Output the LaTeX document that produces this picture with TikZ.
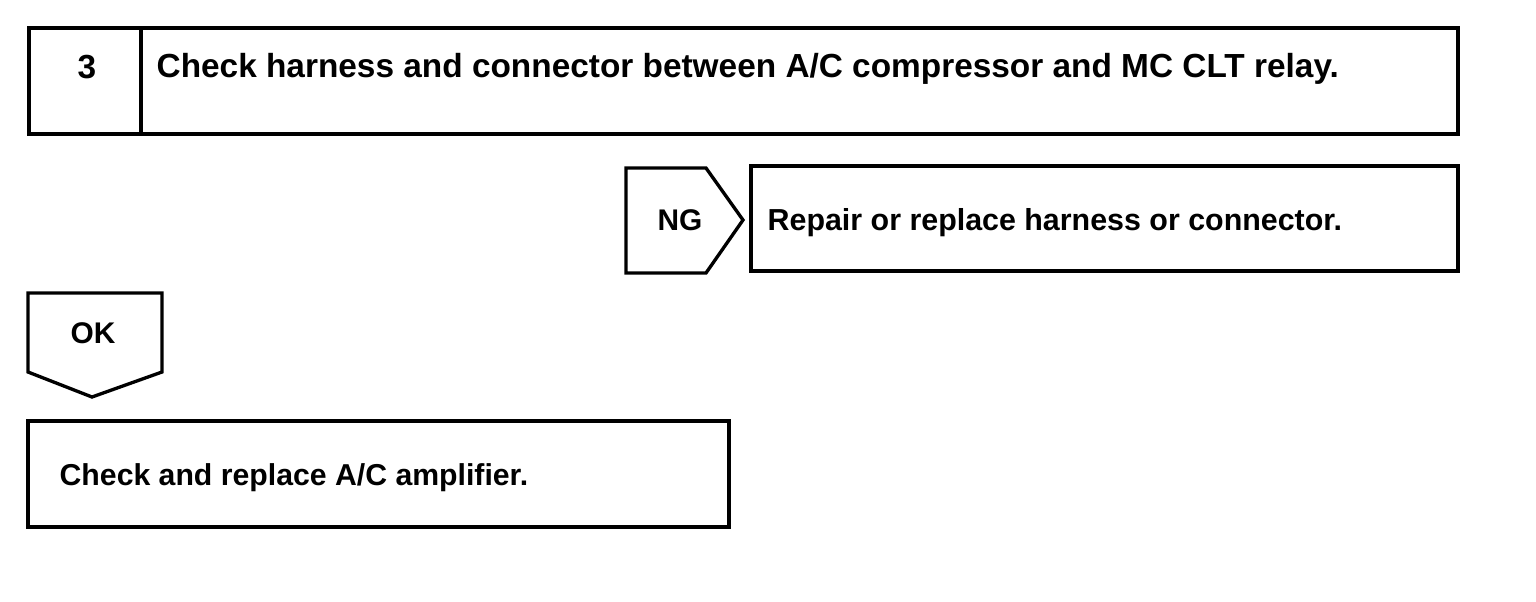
\documentclass[tikz,border=0pt]{standalone}
\usepackage{fontspec}
\setmainfont{Liberation Sans}
\usetikzlibrary{positioning}

\begin{document}
\begin{tikzpicture}[
    x=0.02cm, y=-0.02cm,
    line width=1.9pt,
    font=\bfseries,
    label/.style={anchor=base west, inner sep=0pt},
    tag/.style={anchor=center, inner sep=0pt, font=\bfseries\fontsize{17}{20}\selectfont}
]
\useasboundingbox (0,0) rectangle (1536,602);

% ── Step 3 header ─────────────────────────────────────────
\draw (29,28) rectangle (1458,134);
\draw (141,28) -- (141,134);
\node[tag, font=\bfseries\fontsize{19}{22}\selectfont] (num) at (87,67) {3};
\node[label, font=\bfseries\fontsize{19}{22}\selectfont] (step) at (155,77)
    {Check harness and connector between A/C compressor and MC CLT relay.};

% ── NG branch ─────────────────────────────────────────────
\draw (626,168) -- (706,168) -- (743,220) -- (706,273) -- (626,273) -- cycle;
\node[tag] (ng) at (680,220) {NG};
\draw (751,166) rectangle (1458,271);
\node[label, font=\bfseries\fontsize{17.3}{20}\selectfont] (repair) at (766,230)
    {Repair or replace harness or connector.};

% ── OK branch ─────────────────────────────────────────────
\draw (28,293) -- (162,293) -- (162,372) -- (92,397) -- (28,372) -- cycle;
\node[tag] (ok) at (93,333) {OK};
\draw (28,421) rectangle (729,527);
\node[label, font=\bfseries\fontsize{17.2}{20}\selectfont] (amp) at (58,485)
    {Check and replace A/C amplifier.};

\end{tikzpicture}
\end{document}
